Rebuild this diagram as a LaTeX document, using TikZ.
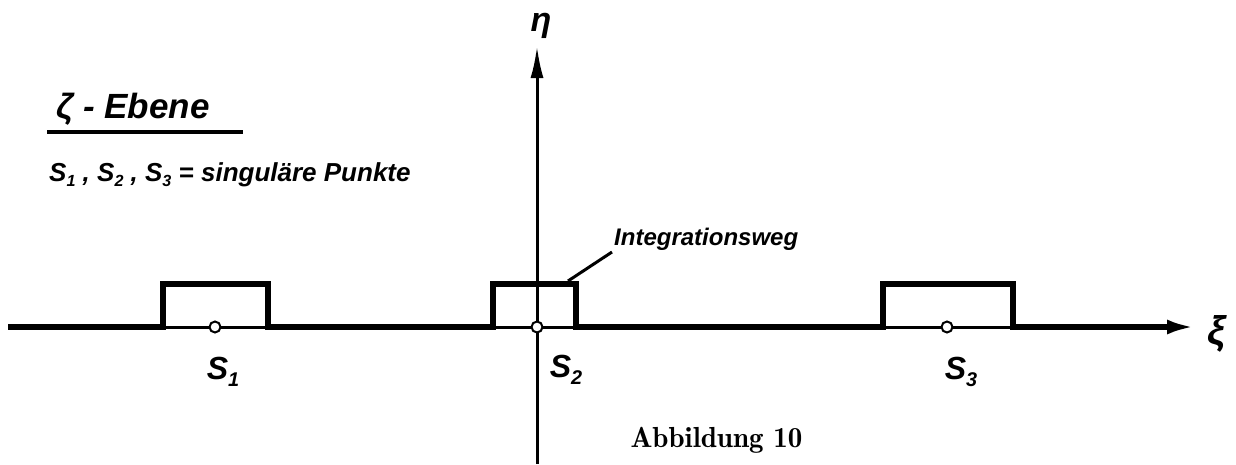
\documentclass[tikz,border=0pt]{standalone}
\usepackage{fontspec}
\newfontfamily\hand{Liberation Sans}
\newfontfamily\capfont{lmromandemi10-regular.otf}
\usetikzlibrary{arrows.meta}
\makeatletter
\newcommand\hsub[1]{\raisebox{-0.4ex}{\fontsize{\dimexpr 0.62\dimexpr\f@size pt\relax\relax}{10pt}\selectfont #1}}
\makeatother
\begin{document}
\begin{tikzpicture}[x=1pt,y=-1pt,
  hw/.style={font=\hand\bfseries\itshape, inner sep=0pt},
  path/.style={line width=5.5pt, line join=miter},
  axis/.style={line width=3pt},
  tip/.style={-{Latex[length=32pt,width=13pt]}},
  pt/.style={circle, draw, line width=2pt, fill=white, minimum size=11pt, inner sep=0pt}]
\useasboundingbox (0,0) rectangle (1236,464);
% coordinates
\coordinate (L) at (8,327);
\coordinate (R) at (1194,327);
\coordinate (B) at (537,464);
\coordinate (T) at (537,46);
% thin axes
\draw[axis] (L) -- (1170,327);
\draw[axis,tip] (B) -- (T);
% integration path
\draw[path] (L) -- (163,327) -- (163,284) -- (268,284) -- (268,327) -- (493,327)
  -- (493,284) -- (576,284) -- (576,327) -- (883,327) -- (883,284) -- (1013,284)
  -- (1013,327) -- (1170,327);
\draw[line width=5pt,-{Latex[length=27pt,width=15pt]}] (1160,327) -- (R);
% points
\node[pt] (s1) at (215,327) {};
\node[pt] (s2) at (537,327) {};
\node[pt] (s3) at (947,327) {};
% labels
\node[hw, font=\hand\bfseries\itshape\fontsize{32}{32}\selectfont] (l1) at (223,372) {S\hsub{1}};
\node[hw, font=\hand\bfseries\itshape\fontsize{32}{32}\selectfont] (l2) at (566,370) {S\hsub{2}};
\node[hw, font=\hand\bfseries\itshape\fontsize{32}{32}\selectfont] (l3) at (961,372) {S\hsub{3}};
\node[hw, font=\hand\bfseries\itshape\fontsize{40}{40}\selectfont] (xi) at (1216,334) {ξ};
\node[hw, font=\hand\bfseries\itshape\fontsize{34}{34}\selectfont] (eta) at (541,26) {η};
\node[hw, font=\hand\bfseries\itshape\fontsize{35}{35}\selectfont, anchor=base west] (title) at (56,118) {ζ - Ebene};
\draw[line width=3.5pt] (47,132) -- (243,132);
\node[hw, font=\hand\bfseries\itshape\fontsize{26}{26}\selectfont, anchor=base west] (sing) at (49,181)
  {S\hsub{1} , S\hsub{2} , S\hsub{3} = singuläre Punkte};
\node[hw, font=\hand\bfseries\itshape\fontsize{24}{24}\selectfont, anchor=base west] (iw) at (614,245) {Integrationsweg};
\draw[line width=3pt] (568,281) -- (612,252);
\node[font=\capfont\fontsize{29}{29}\selectfont, anchor=base west] (cap) at (627,447) {Abbildung 10};
\end{tikzpicture}
\end{document}
